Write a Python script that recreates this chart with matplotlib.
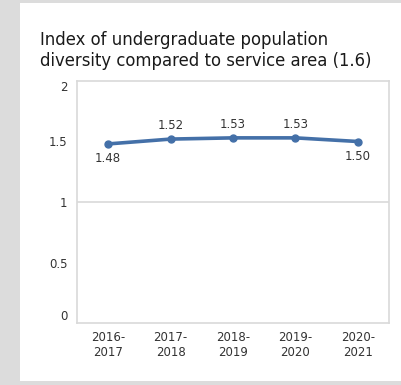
import matplotlib.pyplot as plt
from matplotlib.patches import Rectangle

years = ["2016-\n2017", "2017-\n2018", "2018-\n2019", "2019-\n2020", "2020-\n2021"]
index_values = [1.48, 1.52, 1.53, 1.53, 1.50]
label_below = [True, False, False, False, True]
y_ticks = [0, 0.5, 1, 1.5, 2]
y_ticklabels = ["0", "0.5", "1", "1.5", "2"]

line_color = "#4470a8"
text_color = "#333333"
grid_color = "#d9d9d9"

W, H = 402, 385
fig = plt.figure(figsize=(W / 100, H / 100), dpi=100)
fig.patch.set_facecolor("#dcdcdc")

# white panel behind everything
fig.patches.append(Rectangle((20 / W, 1 - 381 / H), 1 - 20 / W, 378 / H,
                             transform=fig.transFigure, facecolor="white",
                             edgecolor="none", zorder=-1))

fig.text(40 / W, 1 - 31 / H,
         "Index of undergraduate population\ndiversity compared to service area (1.6)",
         fontsize=11.9, color="#1a1a1a", va="top", ha="left", linespacing=1.2)

ax = fig.add_axes([77 / W, 1 - 323 / H, (389 - 77) / W, (323 - 81) / H])
ax.set_facecolor("white")
ax.set_zorder(2)
x = list(range(len(years)))
ax.plot(x, index_values, color=line_color, lw=2.6, marker="o", ms=5, zorder=3)

for xi, v, below in zip(x, index_values, label_below):
    if below:
        ax.annotate(f"{v:.2f}", (xi, v), xytext=(0, -6), textcoords="offset points",
                    ha="center", va="top", fontsize=8.5, color=text_color)
    else:
        ax.annotate(f"{v:.2f}", (xi, v), xytext=(0, 5), textcoords="offset points",
                    ha="center", va="bottom", fontsize=8.5, color=text_color)

ax.set_xlim(-0.5, len(years) - 0.5)
ax.set_ylim(0, 2)
ax.set_yticks(y_ticks)
ax.set_yticklabels(y_ticklabels)
ax.set_xticks(x)
ax.set_xticklabels(years)
ax.tick_params(length=0, labelsize=8.5, colors=text_color, pad=6)
ax.tick_params(axis="y", pad=7)
# end labels sit inside the axis range
ylabels = ax.get_yticklabels()
ylabels[0].set_va("bottom")
ylabels[-1].set_va("top")

ax.axhline(1, color=grid_color, lw=1.2, zorder=1)
for s in ax.spines.values():
    s.set_color(grid_color)
    s.set_linewidth(1.2)

fig.savefig("out.png", dpi=100, facecolor=fig.get_facecolor())
